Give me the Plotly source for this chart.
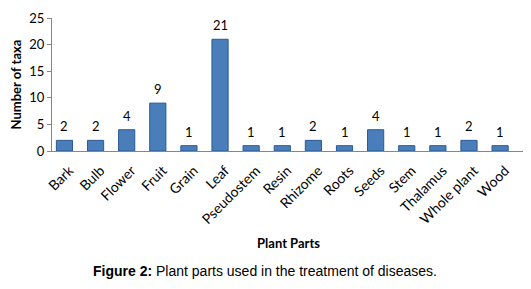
import plotly.graph_objects as go

categories = ["Bark", "Bulb", "Flower", "Fruit", "Grain", "Leaf", "Pseudostem", "Resin",
              "Rhizome", "Roots", "Seeds", "Stem", "Thalamus", "Whole plant", "Wood"]
values = [2, 2, 4, 9, 1, 21, 1, 1, 2, 1, 4, 1, 1, 2, 1]
y_ticks = [0, 5, 10, 15, 20, 25]

font_main = "Lato, Open Sans, sans-serif"

fig = go.Figure(go.Bar(
    x=categories, y=values,
    marker=dict(color="#4a7ebb", line=dict(color="#2a5a92", width=1)),
))

annotations = [dict(
    x=c, y=v, text=str(v), showarrow=False, yanchor="bottom", yshift=4,
    font=dict(family=font_main, size=13, color="#000000"),
) for c, v in zip(categories, values)]

annotations.append(dict(
    text="<b>Figure 2:</b> Plant parts used in the treatment of diseases.",
    xref="paper", yref="paper", x=(265 - 52) / 473, y=-(271 - 151) / 133,
    xanchor="center", yanchor="middle", showarrow=False,
    font=dict(family="Liberation Sans, Arial, sans-serif", size=14, color="#000000"),
))

# page body has an 8px default margin, so the figure is sized to fit the window
fig.update_layout(
    width=523, height=281,
    margin=dict(l=44, r=6, t=10, b=138, autoexpand=False),
    paper_bgcolor="white", plot_bgcolor="white",
    bargap=0.48, showlegend=False,
    xaxis=dict(
        range=[-0.4, 14.8], tickangle=-45, automargin=False,
        tickfont=dict(family=font_main, size=14, color="#000000"),
        ticklabelstandoff=5, ticklabelshift=5,
        showline=True, linecolor="#868686", linewidth=1, ticks="",
        showgrid=False,
        title=dict(text="<b>Plant Parts</b>", font=dict(family=font_main, size=13, color="#000"), standoff=12),
    ),
    yaxis=dict(
        range=[0, 25], tickvals=y_ticks, showgrid=False, zeroline=False, automargin=False,
        showline=True, linecolor="#868686", linewidth=1,
        ticks="outside", ticklen=4, tickcolor="#868686",
        tickfont=dict(family=font_main, size=13, color="#000000"),
        title=dict(text="<b>Number of taxa</b>", font=dict(family=font_main, size=13, color="#000"), standoff=6),
    ),
    annotations=annotations,
)

fig.write_html("out.html")
